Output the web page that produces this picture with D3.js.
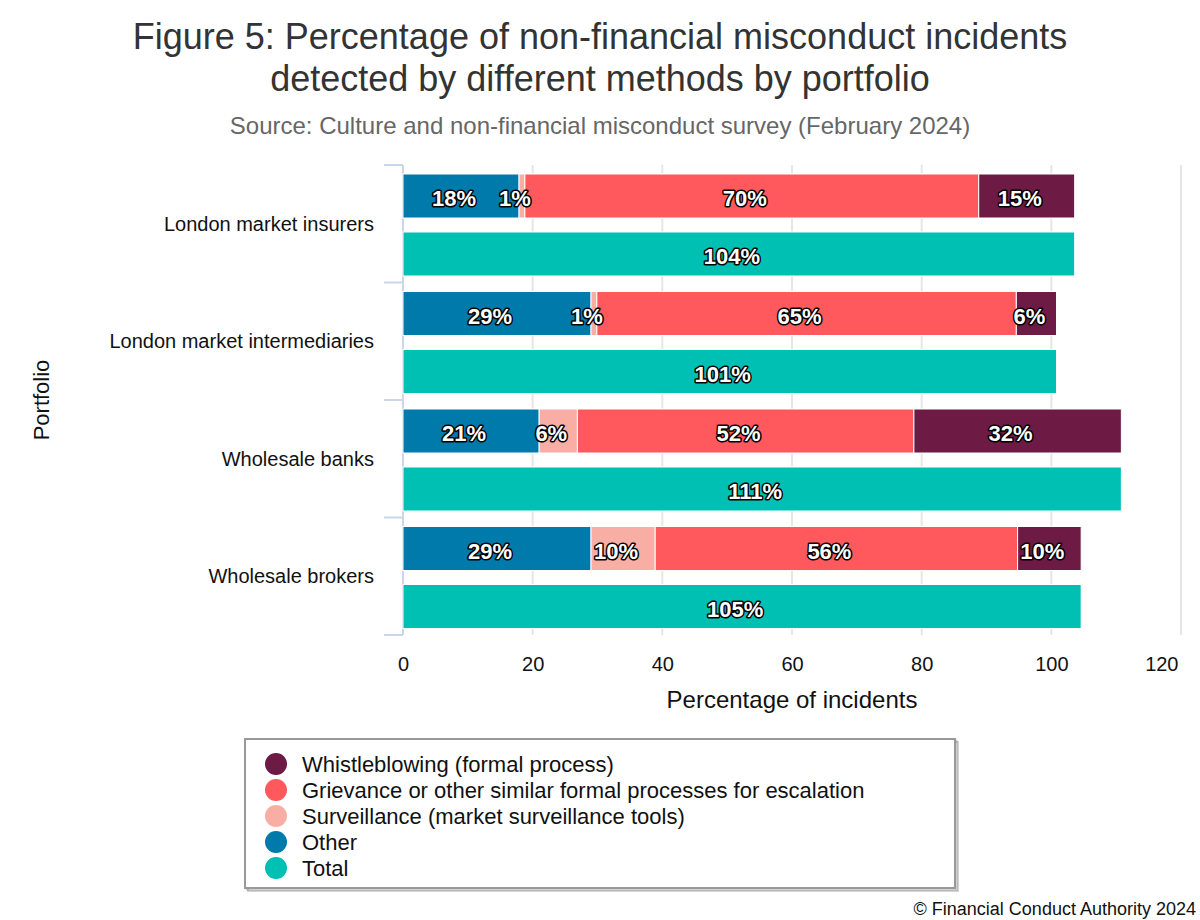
<!DOCTYPE html>
<html><head><meta charset="utf-8">
<script src="https://cdn.jsdelivr.net/npm/d3@7"></script>
<style>body{margin:0;background:#fff}svg{font-family:"Liberation Sans",Arial,sans-serif}</style>
</head><body><svg id="c" width="1200" height="920"></svg>
<script>
const categories = ["London market insurers","London market intermediaries","Wholesale banks","Wholesale brokers"];
const other = [17.9, 29.0, 21.0, 29.0];
const surveillance = [0.9, 0.9, 5.9, 9.9];
const grievance = [70.0, 64.7, 51.9, 55.9];
const whistleblowing = [14.8, 6.2, 32.0, 9.8];
const total = [103.6, 100.8, 110.8, 104.6];
const xTicks = [0, 20, 40, 60, 80, 100, 120];
const legendNames = ["Whistleblowing (formal process)","Grievance or other similar formal processes for escalation","Surveillance (market surveillance tools)","Other","Total"];
const colors = {whistle:"#6d1a45", griev:"#ff585d", surv:"#f8aea5", other:"#007aab", total:"#00bfb3"};

const svg = d3.select("#c");
const L = 403, R = 1181, T = 165, B = 635;
const x = d3.scaleLinear().domain([0,120]).range([L,R]);
const y = d3.scaleBand().domain(categories).range([T,B]);

// title
svg.append("text").attr("x",600).attr("y",49).attr("text-anchor","middle").attr("font-size",36).attr("fill","#333").text("Figure 5: Percentage of non-financial misconduct incidents");
svg.append("text").attr("x",600).attr("y",91).attr("text-anchor","middle").attr("font-size",36).attr("fill","#333").text("detected by different methods by portfolio");
svg.append("text").attr("x",600).attr("y",134).attr("text-anchor","middle").attr("font-size",24).attr("fill","#666").text("Source: Culture and non-financial misconduct survey (February 2024)");

// grid
svg.append("g").selectAll("line").data(xTicks.slice(1)).join("line")
  .attr("x1",d=>x(d)).attr("x2",d=>x(d)).attr("y1",T).attr("y2",B)
  .attr("stroke","#e6e6e6").attr("stroke-width",2);

// x axis labels
const xa = svg.append("g").attr("transform",`translate(0,${B})`)
  .call(d3.axisBottom(x).tickValues(xTicks).tickSize(0).tickPadding(22));
xa.select(".domain").remove();
xa.selectAll("text").attr("font-size",20).attr("fill","#111").attr("font-family","Liberation Sans, Arial, sans-serif");
xa.selectAll("text").filter(d=>d===120).attr("text-anchor","end").attr("x",-3);
svg.append("text").attr("x",(L+R)/2).attr("y",708).attr("text-anchor","middle").attr("font-size",24).attr("fill","#111").text("Percentage of incidents");

// y axis
svg.append("line").attr("x1",L).attr("x2",L).attr("y1",T).attr("y2",B).attr("stroke","#ccd6eb").attr("stroke-width",2);
const bounds = categories.map(c=>y(c)).concat([B]);
svg.append("g").selectAll("line").data(bounds).join("line")
  .attr("x1",384).attr("x2",L).attr("y1",d=>d).attr("y2",d=>d).attr("stroke","#ccd6eb").attr("stroke-width",2);
svg.append("g").selectAll("text").data(categories).join("text")
  .attr("x",374).attr("y",d=>y(d)+y.bandwidth()/2+7).attr("text-anchor","end").attr("font-size",20).attr("fill","#111").text(d=>d);
svg.append("text").attr("transform","translate(49,400) rotate(-90)").attr("text-anchor","middle").attr("font-size",22).attr("fill","#111").text("Portfolio");

// bars
const stackKeys = [["other",other,colors.other],["surv",surveillance,colors.surv],["griev",grievance,colors.griev],["whistle",whistleblowing,colors.whistle]];
const barH = 44, topPad = 9, gap = 14;
const segs = [];
categories.forEach((c,i)=>{
  let acc = 0;
  stackKeys.forEach(([k,arr,col])=>{
    segs.push({c, x0:acc, x1:acc+arr[i], v:arr[i], col, row:0});
    acc += arr[i];
  });
  segs.push({c, x0:0, x1:total[i], v:total[i], col:colors.total, row:1});
});
const by = d => y(d.c) + topPad + d.row*(barH+gap);
svg.append("g").selectAll("rect").data(segs).join("rect")
  .attr("x",d=>x(d.x0)).attr("y",by).attr("width",d=>x(d.x1)-x(d.x0)).attr("height",barH)
  .attr("fill",d=>d.col).attr("stroke","#fff").attr("stroke-width",1);
svg.append("g").selectAll("text").data(segs).join("text")
  .attr("x",d=>(x(d.x0)+x(d.x1))/2-7).attr("y",d=>by(d)+barH/2+10)
  .attr("text-anchor","middle").attr("font-size",22).attr("font-weight","bold")
  .attr("fill","#fff").attr("stroke","#000").attr("stroke-width",3).attr("stroke-linejoin","round")
  .attr("paint-order","stroke").text(d=>Math.round(d.v)+"%");

// legend
const lg = svg.append("g");
[3,2,1].forEach(o=>lg.append("rect").attr("x",245+o).attr("y",739+o).attr("width",710).attr("height",149)
  .attr("fill","none").attr("stroke","#000").attr("stroke-opacity",0.05*o+0.02).attr("stroke-width",2));
lg.append("rect").attr("x",245).attr("y",739).attr("width",710).attr("height",149).attr("fill","#fff").attr("stroke","#999").attr("stroke-width",2);
const legCols = [colors.whistle,colors.griev,colors.surv,colors.other,colors.total];
const items = lg.selectAll("g.item").data(legendNames).join("g").attr("class","item")
  .attr("transform",(d,i)=>`translate(0,${764+i*26})`);
items.append("circle").attr("cx",276).attr("cy",0).attr("r",11).attr("fill",(d,i)=>legCols[i]);
items.append("text").attr("x",302).attr("y",8).attr("font-size",22).attr("fill","#111").text(d=>d);

// credits
svg.append("text").attr("x",1196).attr("y",915).attr("text-anchor","end").attr("font-size",18).attr("fill","#111").text("© Financial Conduct Authority 2024");
</script></body></html>
